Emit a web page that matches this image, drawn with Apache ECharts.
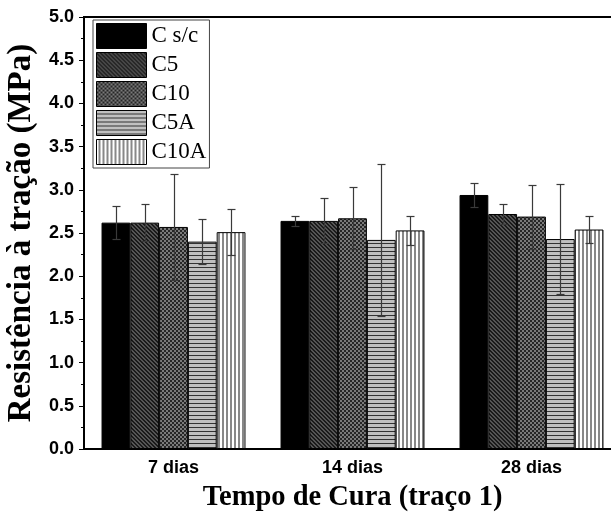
<!DOCTYPE html>
<html>
<head>
<meta charset="utf-8">
<script src="https://cdn.jsdelivr.net/npm/echarts@6/dist/echarts.min.js"></script>
<style>
html,body{margin:0;padding:0;background:#fff;}
#chart{width:611px;height:513px;}
</style>
</head>
<body>
<div id="chart"></div>
<script>
// ---- data ----
const categories = ['7 dias', '14 dias', '28 dias'];
const seriesNames = ['C s/c', 'C5', 'C10', 'C5A', 'C10A'];
const valCsc  = [2.62, 2.64, 2.94];
const valC5   = [2.62, 2.64, 2.72];
const valC10  = [2.57, 2.67, 2.69];
const valC5A  = [2.40, 2.42, 2.43];
const valC10A = [2.51, 2.53, 2.54];
const errCsc  = [0.19, 0.06, 0.14];
const errC5   = [0.21, 0.26, 0.12];
const errC10  = [0.61, 0.36, 0.37];
const errC5A  = [0.26, 0.88, 0.64];
const errC10A = [0.27, 0.17, 0.16];
const yTicks = ['0.0','0.5','1.0','1.5','2.0','2.5','3.0','3.5','4.0','4.5','5.0'];

const values = [valCsc, valC5, valC10, valC5A, valC10A];
const errors = [errCsc, errC5, errC10, errC5A, errC10A];

// ---- patterns ----
function pat(w, h, draw) {
  const c = document.createElement('canvas');
  c.width = w; c.height = h;
  const g = c.getContext('2d');
  draw(g);
  return { image: c, repeat: 'repeat' };
}
const pC5 = pat(4, 4, g => {
  g.fillStyle = '#555'; g.fillRect(0, 0, 4, 4);
  g.fillStyle = '#1a1a1a';
  for (let i = 0; i < 4; i++) { g.fillRect(i, i, 1, 1); g.fillRect(i, (i + 1) % 4, 1, 1); }
});
const pC10 = pat(4, 4, g => {
  g.fillStyle = '#262626'; g.fillRect(0, 0, 4, 4);
  g.fillStyle = '#7a7a7a';
  g.fillRect(0, 0, 2, 2); g.fillRect(2, 2, 2, 2);
});
const pC5A = pat(4, 4, g => {
  g.fillStyle = '#c0c0c0'; g.fillRect(0, 0, 4, 4);
  g.fillStyle = '#333'; g.fillRect(0, 3, 4, 1);
});
const pC10A = pat(4, 4, g => {
  g.fillStyle = '#ffffff'; g.fillRect(0, 0, 4, 4);
  g.fillStyle = '#888'; g.fillRect(2, 0, 2, 4);
});
const fills = ['#000000', pC5, pC10, pC5A, pC10A];

const gapFrac = 0.196;

const barSeries = seriesNames.map((n, i) => ({
  name: n,
  type: 'bar',
  data: values[i],
  barGap: '0%',
  barCategoryGap: (gapFrac * 100) + '%',
  itemStyle: { color: fills[i], borderColor: '#000', borderWidth: 1 },
  emphasis: { disabled: true },
  z: 2
}));

const errData = [];
for (let s = 0; s < seriesNames.length; s++) {
  for (let c = 0; c < categories.length; c++) {
    errData.push([c, s, values[s][c], errors[s][c]]);
  }
}

const errSeries = {
  type: 'custom',
  name: 'err',
  z: 5,
  silent: true,
  encode: { x: 0, y: 2 },
  data: errData,
  renderItem: function (params, api) {
    const c = api.value(0), s = api.value(1), m = api.value(2), e = api.value(3);
    const center = api.coord([c, m]);
    const band = api.size([1, 0])[0];
    const bw = band * (1 - gapFrac) / seriesNames.length;
    const x = Math.round(center[0] + (s - (seriesNames.length - 1) / 2) * bw) + 0.5;
    const top = Math.round(api.coord([c, m + e])[1]) + 0.5;
    const bot = Math.round(api.coord([c, m - e])[1]) + 0.5;
    const hw = 4;
    const st = { stroke: '#3a3a3a', lineWidth: 1.2 };
    return {
      type: 'group',
      children: [
        { type: 'line', shape: { x1: x, y1: top, x2: x, y2: bot }, style: st },
        { type: 'line', shape: { x1: x - hw, y1: top, x2: x + hw, y2: top }, style: st },
        { type: 'line', shape: { x1: x - hw, y1: bot, x2: x + hw, y2: bot }, style: st }
      ]
    };
  }
};

const chart = echarts.init(document.getElementById('chart'), null, { renderer: 'canvas' });
chart.setOption({
  animation: false,
  backgroundColor: '#fff',
  grid: {
    left: 84, top: 17, bottom: 64, right: -10,
    outerBoundsMode: 'none',
    containLabel: false,
    show: true, borderColor: '#000', borderWidth: 2, backgroundColor: 'transparent'
  },
  legend: {
    data: seriesNames,
    orient: 'vertical',
    left: 93, top: 20,
    padding: [3, 3, 3, 3],
    itemWidth: 50, itemHeight: 25, itemGap: 3,
    backgroundColor: '#fff',
    borderColor: '#444', borderWidth: 1, borderRadius: 0,
    icon: 'rect',
    itemStyle: { borderColor: '#000', borderWidth: 1 },
    textStyle: { fontFamily: 'Liberation Serif', fontSize: 23, color: '#000' },
    selectedMode: false
  },
  xAxis: {
    type: 'category',
    data: categories,
    axisLine: { lineStyle: { color: '#000', width: 2 } },
    axisTick: { show: false },
    axisLabel: { fontFamily: 'Liberation Sans', fontWeight: 'bold', fontSize: 18, color: '#000', margin: 10 },
    name: 'Tempo de Cura (traço 1)',
    nameLocation: 'middle',
    nameGap: 34,
    nameTextStyle: { fontFamily: 'Liberation Serif', fontWeight: 'bold', fontSize: 28.5, color: '#000' }
  },
  yAxis: {
    type: 'value',
    min: 0, max: 5, interval: 0.5,
    axisLine: { show: true, lineStyle: { color: '#000', width: 2 } },
    axisTick: { show: true, inside: false, length: 5, lineStyle: { color: '#000', width: 1 } },
    minorTick: { show: true, splitNumber: 2, length: 3, lineStyle: { color: '#000', width: 1 } },
    splitLine: { show: false },
    axisLabel: {
      fontFamily: 'Liberation Sans', fontWeight: 'bold', fontSize: 18, color: '#000', margin: 10,
      formatter: function (v) { return yTicks[Math.round(v / 0.5)]; }
    },
    name: 'Resistência à tração (MPa)',
    nameLocation: 'middle',
    nameGap: 40,
    nameTextStyle: { fontFamily: 'Liberation Serif', fontWeight: 'bold', fontSize: 33, color: '#000' }
  },
  series: barSeries.concat([errSeries])
});
</script>
</body>
</html>
